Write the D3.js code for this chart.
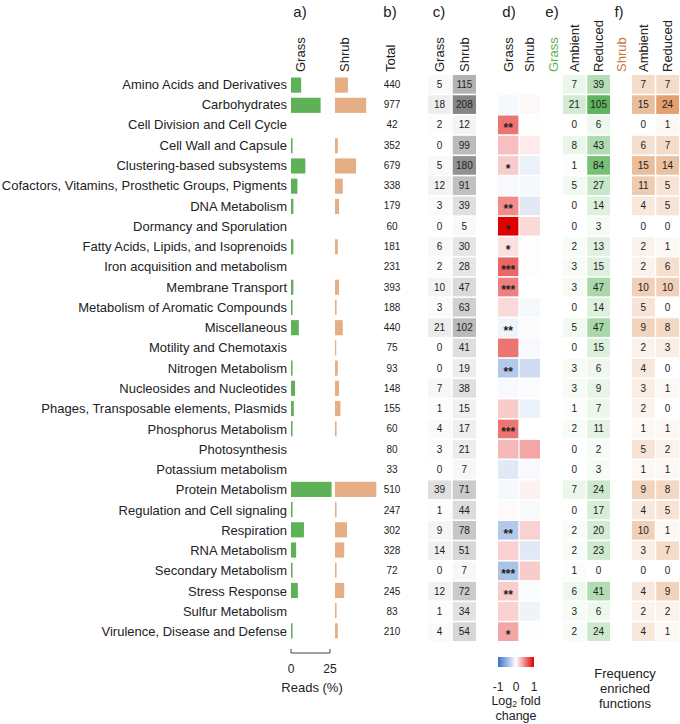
<!DOCTYPE html>
<html><head><meta charset="utf-8">
<script src="https://cdn.jsdelivr.net/npm/d3@7"></script>
<style>
body{margin:0;background:#fff;}
svg text{font-family:"Liberation Sans",Arial,Helvetica,sans-serif;fill:#222;}
</style></head>
<body><svg id="c" width="680" height="724"></svg>
<script>
const categories = ["Amino Acids and Derivatives","Carbohydrates","Cell Division and Cell Cycle","Cell Wall and Capsule","Clustering-based subsystems","Cofactors, Vitamins, Prosthetic Groups, Pigments","DNA Metabolism","Dormancy and Sporulation","Fatty Acids, Lipids, and Isoprenoids","Iron acquisition and metabolism","Membrane Transport","Metabolism of Aromatic Compounds","Miscellaneous","Motility and Chemotaxis","Nitrogen Metabolism","Nucleosides and Nucleotides","Phages, Transposable elements, Plasmids","Phosphorus Metabolism","Photosynthesis","Potassium metabolism","Protein Metabolism","Regulation and Cell signaling","Respiration","RNA Metabolism","Secondary Metabolism","Stress Response","Sulfur Metabolism","Virulence, Disease and Defense"];
// a) reads (%)
const readsGrass = [6.5,19,0,1,9.2,4.1,1.5,0,1.5,0,1.5,1,5,0,1,2.6,1.8,1,0,0,26,1,8.3,3.3,1,4.4,0,1];
const readsShrub = [8.3,20,0,1.8,13.5,5,2.6,0,1.8,0,2.6,1,5,0.8,1.8,2.6,3.5,1,0,0,26.5,1,7.7,5.9,1,5.9,1,1.8];
const readsTicks = [0,25];
// b) total
const totals = [440,977,42,352,679,338,179,60,181,231,393,188,440,75,93,148,155,60,80,33,510,247,302,328,72,245,83,210];
// c) counts
const countGrass = [5,18,2,0,5,12,3,0,6,2,10,3,21,0,0,7,1,4,3,0,39,1,9,14,0,12,1,4];
const countShrub = [115,208,12,99,180,91,39,5,30,28,47,63,102,41,19,38,15,17,21,7,71,44,78,51,7,72,34,54];
// d) log2 fold change
const lfcGrass = [null,-0.05,0.55,0.25,0.2,-0.04,0.45,1.0,0.12,0.6,0.5,0.15,-0.08,0.55,-0.38,-0.04,0.2,0.55,0.28,-0.15,-0.05,0.02,-0.38,0.18,-0.42,0.2,0.18,0.35];
const lfcShrub = [null,0.03,-0.01,0.08,-0.1,-0.05,-0.15,0.15,0.01,0.01,0,-0.05,-0.03,-0.04,-0.25,-0.03,-0.1,0,0.35,-0.04,0.05,-0.04,0.18,-0.15,0.2,-0.03,-0.08,-0.01];
const sigGrass = ["","","**","","*","","**","*","*","***","***","","**","","**","","","***","","","","","**","","***","**","","*"];
const sigShrub = ["","","","","","","","","","","","","","","","","","","","","","","","","","","",""];
const lfcTicks = [-1,0,1];
// e) grass enriched
const grassAmbient = [7,21,0,8,1,5,0,0,2,3,3,0,5,0,3,3,1,2,0,0,7,0,2,2,1,6,3,2];
const grassReduced = [39,105,6,43,84,27,14,3,13,15,47,14,47,15,6,9,7,11,2,3,24,17,20,23,0,41,6,24];
// f) shrub enriched
const shrubAmbient = [7,15,0,6,15,11,4,0,2,2,10,5,9,2,4,3,2,1,5,1,9,4,10,3,0,4,2,4];
const shrubReduced = [7,24,1,7,14,5,5,0,1,6,10,0,8,3,0,1,0,1,2,1,8,5,1,7,0,9,2,1];

const svg = d3.select("#c");
const GREEN = "#5fb158", ORANGE = "#e6ae85";

const y = d3.scaleBand().domain(categories).range([75,641]).paddingInner(0.08);
const yBar = d3.scaleBand().domain(categories).range([75,641]).paddingInner(0.25).paddingOuter(0.125);

// labels
svg.append("g").selectAll("text").data(categories).join("text")
  .attr("x",287).attr("y",d=>y(d)+y.bandwidth()/2).attr("dy","0.35em")
  .attr("text-anchor","end").style("font-size","13px").text(d=>d);

// group letters
const letters = [["a)",300],["b)",390],["c)",439],["d)",509],["e)",552],["f)",619]];
svg.append("g").selectAll("text").data(letters).join("text")
  .attr("x",d=>d[1]).attr("y",17).attr("text-anchor","middle")
  .style("font-size","15px").text(d=>d[0]);

function header(x,t,color){
  svg.append("text").attr("transform",`translate(${x},72) rotate(-90)`)
    .attr("dy","0.35em").style("font-size","13px").style("fill",color||"#222").text(t);
}

// a) bars
const xr = d3.scaleLinear().domain([0,25]).range([0,39]);
[[readsGrass,291,GREEN,"Grass"],[readsShrub,335,ORANGE,"Shrub"]].forEach(([vals,x0,col,name])=>{
  svg.append("g").selectAll("rect").data(categories).join("rect")
    .attr("x",x0).attr("y",d=>yBar(d)).attr("height",yBar.bandwidth())
    .attr("width",(d,i)=>xr(vals[i])).attr("fill",col);
  header(x0+9,name);
});
const ax = svg.append("g").attr("transform","translate(291,653)");
ax.append("path").attr("d",`M${xr(0)},-4V0H${xr(25)}V-4`).attr("fill","none").attr("stroke","#444").attr("stroke-width",1);
ax.selectAll("text.t").data(readsTicks).join("text").attr("x",d=>xr(d)).attr("y",20)
  .attr("text-anchor","middle").style("font-size","12px").text(d=>d);
ax.append("text").attr("x",21).attr("y",39).attr("text-anchor","middle").style("font-size","13px").text("Reads (%)");

// b) totals
svg.append("g").selectAll("text").data(categories).join("text")
  .attr("x",392).attr("y",d=>y(d)+y.bandwidth()/2).attr("dy","0.35em")
  .attr("text-anchor","middle").style("font-size","10px").text((d,i)=>totals[i]);
header(390,"Total");

function cellColumn(vals,xs,key,color,showText,stars){
  const g = svg.append("g");
  g.selectAll("rect").data(categories).join("rect")
    .attr("x",xs(key)).attr("width",xs.bandwidth())
    .attr("y",d=>y(d)).attr("height",y.bandwidth())
    .attr("fill",(d,i)=>vals[i]==null?"none":color(vals[i]));
  if(showText){
    g.selectAll("text").data(categories).join("text")
      .attr("x",xs(key)+xs.bandwidth()/2).attr("y",d=>y(d)+y.bandwidth()/2).attr("dy","0.35em")
      .attr("text-anchor","middle").style("font-size","10px").text((d,i)=>vals[i]);
  }
  if(stars){
    g.selectAll("text.s").data(categories).join("text").attr("class","s")
      .attr("x",xs(key)+xs.bandwidth()/2).attr("y",d=>y(d)+y.bandwidth()/2).attr("dy","0.62em")
      .attr("text-anchor","middle").style("font-size","12px").style("font-weight","bold").text((d,i)=>stars[i]);
  }
  header(xs(key)+xs.bandwidth()/2,key);
}

// c) counts
const xc = d3.scaleBand().domain(["Grass","Shrub"]).range([428,476]).paddingInner(0.06);
const grey = d3.scalePow().exponent(0.8).domain([0,208]).range(["#ffffff","#858585"]);
cellColumn(countGrass,xc,"Grass",grey,true);
cellColumn(countShrub,xc,"Shrub",grey,true);

// d) lfc
const xd = d3.scaleBand().domain(["Grass","Shrub"]).range([498,540]).paddingInner(0.06);
const div = d3.scaleLinear().domain([-1,0,1]).range(["#3a6fc6","#ffffff","#e00000"]).clamp(true);
cellColumn(lfcGrass,xd,"Grass",div,false,sigGrass);
cellColumn(lfcShrub,xd,"Shrub",div,false,sigShrub);

// e) grass freq
const xe = d3.scaleBand().domain(["Ambient","Reduced"]).range([563,610]).paddingInner(0.06);
const gscale = d3.scalePow().exponent(0.8).domain([0,105]).range(["#ffffff","#5db55d"]);
header(553,"Grass","#5fb158");
cellColumn(grassAmbient,xe,"Ambient",gscale,true);
cellColumn(grassReduced,xe,"Reduced",gscale,true);

// f) shrub freq
const xf = d3.scaleBand().domain(["Ambient","Reduced"]).range([632,679]).paddingInner(0.06);
const oscale = d3.scalePow().exponent(0.8).domain([0,24]).range(["#ffffff","#e2a06e"]);
header(621,"Shrub","#c7773a");
cellColumn(shrubAmbient,xf,"Ambient",oscale,true);
cellColumn(shrubReduced,xf,"Reduced",oscale,true);

// d legend
const defs = svg.append("defs");
const lg = defs.append("linearGradient").attr("id","lg");
lg.selectAll("stop").data(d3.range(0,1.001,0.1)).join("stop")
  .attr("offset",d=>d).attr("stop-color",d=>div(-1+2*d));
const xl = d3.scaleLinear().domain([-1,1]).range([498,534]);
svg.append("rect").attr("x",xl(-1)).attr("y",657).attr("width",xl(1)-xl(-1)).attr("height",10).attr("fill","url(#lg)");
svg.append("g").selectAll("text").data(lfcTicks).join("text")
  .attr("x",d=>xl(d)).attr("y",691).attr("text-anchor","middle").style("font-size","12px")
  .text(d=>d<0?"-"+Math.abs(d):d);
const lt = svg.append("text").attr("x",516).attr("y",705).attr("text-anchor","middle").style("font-size","12.5px");
lt.append("tspan").text("Log");
lt.append("tspan").style("font-size","8.5px").attr("dy","2").text("2");
lt.append("tspan").attr("dy","-2").text(" fold");
svg.append("text").attr("x",516).attr("y",720).attr("text-anchor","middle").style("font-size","12.5px").text("change");

// freq legend
["Frequency","enriched","functions"].forEach((t,i)=>{
  svg.append("text").attr("x",625).attr("y",678+i*15).attr("text-anchor","middle").style("font-size","13px").text(t);
});
</script></body></html>
